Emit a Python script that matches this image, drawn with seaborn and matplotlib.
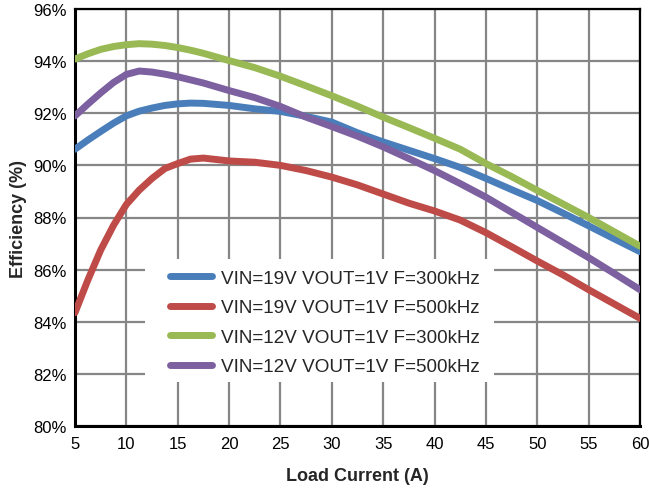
import numpy as np
import pandas as pd
import matplotlib
matplotlib.use("Agg")
import matplotlib.pyplot as plt
from matplotlib.patches import Rectangle
import seaborn as sns

# Load current sample points (A)
load_current = [5, 6.25, 7.5, 8.75, 10, 11.25, 12.5, 13.75, 15, 16.25, 17.5, 20,
                22.5, 25, 27.5, 30, 32.5, 35, 37.5, 40, 42.5, 45, 47.5, 50,
                52.5, 55, 57.5, 60]

# Efficiency (%) per operating condition
eff_19v_300k = [90.62, 90.97, 91.30, 91.62, 91.90, 92.08, 92.20, 92.30, 92.36, 92.39,
                92.38, 92.30, 92.17, 92.07, 91.88, 91.66, 91.25, 90.90, 90.58, 90.26,
                89.92, 89.50, 89.07, 88.65, 88.17, 87.68, 87.18, 86.69]
eff_19v_500k = [84.35, 85.60, 86.75, 87.70, 88.50, 89.05, 89.50, 89.88, 90.07, 90.24,
                90.28, 90.17, 90.12, 90.00, 89.80, 89.55, 89.25, 88.90, 88.55, 88.25,
                87.90, 87.42, 86.88, 86.33, 85.80, 85.23, 84.68, 84.13]
eff_12v_300k = [94.08, 94.28, 94.45, 94.56, 94.63, 94.67, 94.65, 94.60, 94.52, 94.42,
                94.30, 94.02, 93.75, 93.42, 93.05, 92.67, 92.27, 91.85, 91.45, 91.04,
                90.62, 90.07, 89.57, 89.04, 88.52, 88.00, 87.45, 86.90]
eff_12v_500k = [91.90, 92.35, 92.78, 93.18, 93.49, 93.62, 93.58, 93.50, 93.40, 93.28,
                93.16, 92.87, 92.60, 92.26, 91.85, 91.49, 91.12, 90.71, 90.26, 89.80,
                89.30, 88.78, 88.20, 87.62, 87.04, 86.46, 85.85, 85.23]

series_labels = ["VIN=19V VOUT=1V F=300kHz", "VIN=19V VOUT=1V F=500kHz",
                 "VIN=12V VOUT=1V F=300kHz", "VIN=12V VOUT=1V F=500kHz"]
series_values = [eff_19v_300k, eff_19v_500k, eff_12v_300k, eff_12v_500k]
series_colors = ["#4A7EBB", "#BE4B48", "#98B954", "#7D60A0"]

x_ticks = [5, 10, 15, 20, 25, 30, 35, 40, 45, 50, 55, 60]
y_ticks = [80, 82, 84, 86, 88, 90, 92, 94, 96]

frames = []
for label, vals in zip(series_labels, series_values):
    frames.append(pd.DataFrame({"Load Current (A)": load_current,
                                "Efficiency": vals,
                                "Condition": label}))
df = pd.concat(frames, ignore_index=True)

sns.set_theme(style="white")
plt.rcParams["font.family"] = ["Liberation Sans", "DejaVu Sans"]

fig = plt.figure(figsize=(6.49, 4.89), dpi=100)
ax = fig.add_axes([75 / 649, 1 - 427 / 489, 565 / 649, 417 / 489])

sns.lineplot(data=df, x="Load Current (A)", y="Efficiency", hue="Condition",
             hue_order=series_labels, palette=series_colors, linewidth=5,
             ax=ax, zorder=3, sort=False)
for ln in ax.get_lines():
    ln.set_solid_capstyle("round")
    ln.set_solid_joinstyle("round")

ax.set_xlim(5, 60)
ax.set_ylim(80, 96)
ax.set_xticks(x_ticks)
ax.set_yticks(y_ticks)
ax.set_xticklabels([str(t) for t in x_ticks])
ax.set_yticklabels([f"{t}%" for t in y_ticks])
ax.tick_params(axis="both", length=0, labelsize=12, colors="black")
ax.tick_params(axis="x", pad=7)
ax.tick_params(axis="y", pad=6)

ax.set_axisbelow(True)
ax.grid(True, color="#868686", linewidth=1.6)

for side in ["left", "bottom"]:
    ax.spines[side].set_color("black")
    ax.spines[side].set_linewidth(2.2)
for side in ["top", "right"]:
    ax.spines[side].set_color("black")
    ax.spines[side].set_linewidth(1.6)

ax.set_xlabel("Load Current (A)", fontsize=13, fontweight="bold", labelpad=12)
ax.set_ylabel("Efficiency (%)", fontsize=13, fontweight="bold", labelpad=4)

# white panel behind the legend that hides the grid
ax.add_patch(Rectangle((0.124, 0.1055), 0.618, 0.295, transform=ax.transAxes,
                       facecolor="white", edgecolor="none", zorder=1))

leg = ax.legend(loc="upper left", bbox_to_anchor=(0.168, 0.375), frameon=False,
                fontsize=13.6, handlelength=2.22, handletextpad=0.48,
                labelspacing=0.65, borderpad=0, borderaxespad=0)
for h in leg.get_lines():
    h.set_linewidth(5)
    h.set_solid_capstyle("round")
leg.set_zorder(5)

fig.savefig("out.png", dpi=100)
